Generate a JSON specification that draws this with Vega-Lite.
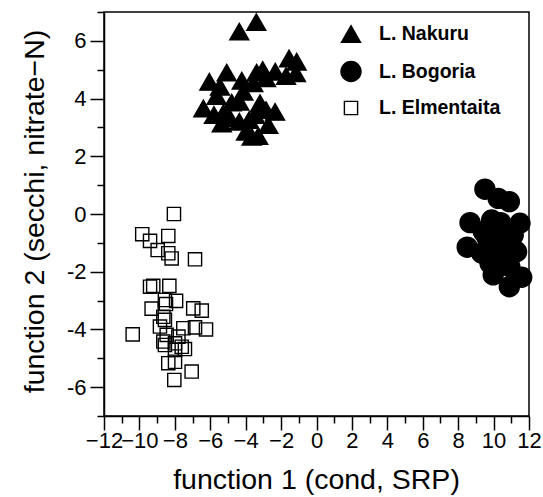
{
  "$schema": "https://vega.github.io/schema/vega-lite/v6.json",
  "autosize": {"type": "none"},
  "padding": {"left": 104, "top": 12, "right": 14, "bottom": 81},
  "width": 425,
  "height": 404,
  "background": "white",
  "config": {
    "view": {"stroke": "black", "strokeWidth": 1.5},
    "font": "Liberation Sans",
    "axis": {
      "domainColor": "black",
      "domainWidth": 1.5,
      "tickColor": "black",
      "tickWidth": 1.5,
      "grid": false,
      "labelColor": "black",
      "labelFont": "Liberation Sans",
      "labelFontSize": 22,
      "labelOverlap": false,
      "labelFlush": false,
      "labelBound": false,
      "titleColor": "black",
      "titleFont": "Liberation Sans",
      "titleFontSize": 28.5,
      "titleFontWeight": "normal"
    }
  },
  "data": {
    "values": [
      {"lake": "L. Nakuru", "f1": -3.4, "f2": 6.65},
      {"lake": "L. Nakuru", "f1": -4.36, "f2": 6.32},
      {"lake": "L. Nakuru", "f1": -1.55, "f2": 5.39},
      {"lake": "L. Nakuru", "f1": -1.12, "f2": 5.28},
      {"lake": "L. Nakuru", "f1": -1.16, "f2": 4.88},
      {"lake": "L. Nakuru", "f1": -1.72, "f2": 4.78},
      {"lake": "L. Nakuru", "f1": -2.33, "f2": 4.93},
      {"lake": "L. Nakuru", "f1": -3.04, "f2": 4.99},
      {"lake": "L. Nakuru", "f1": -3.38, "f2": 4.9},
      {"lake": "L. Nakuru", "f1": -2.85, "f2": 4.7},
      {"lake": "L. Nakuru", "f1": -5.07, "f2": 4.9},
      {"lake": "L. Nakuru", "f1": -6.05, "f2": 4.58},
      {"lake": "L. Nakuru", "f1": -5.45, "f2": 4.41},
      {"lake": "L. Nakuru", "f1": -4.22, "f2": 4.62},
      {"lake": "L. Nakuru", "f1": -3.57, "f2": 4.53},
      {"lake": "L. Nakuru", "f1": -5.64, "f2": 4.09},
      {"lake": "L. Nakuru", "f1": -4.13, "f2": 4.24},
      {"lake": "L. Nakuru", "f1": -4.79, "f2": 3.86},
      {"lake": "L. Nakuru", "f1": -4.36, "f2": 3.89},
      {"lake": "L. Nakuru", "f1": -6.39, "f2": 3.66},
      {"lake": "L. Nakuru", "f1": -5.79, "f2": 3.43},
      {"lake": "L. Nakuru", "f1": -5.26, "f2": 3.49},
      {"lake": "L. Nakuru", "f1": -3.19, "f2": 3.84},
      {"lake": "L. Nakuru", "f1": -2.85, "f2": 3.6},
      {"lake": "L. Nakuru", "f1": -2.34, "f2": 3.54},
      {"lake": "L. Nakuru", "f1": -3.47, "f2": 3.43},
      {"lake": "L. Nakuru", "f1": -4.89, "f2": 3.32},
      {"lake": "L. Nakuru", "f1": -5.35, "f2": 3.14},
      {"lake": "L. Nakuru", "f1": -4.36, "f2": 3.2},
      {"lake": "L. Nakuru", "f1": -3.8, "f2": 3.26},
      {"lake": "L. Nakuru", "f1": -2.72, "f2": 3.08},
      {"lake": "L. Nakuru", "f1": -3.98, "f2": 2.85},
      {"lake": "L. Nakuru", "f1": -3.66, "f2": 2.68},
      {"lake": "L. Nakuru", "f1": -3.29, "f2": 2.7},
      {"lake": "L. Bogoria", "f1": 9.51, "f2": 0.86},
      {"lake": "L. Bogoria", "f1": 10.26, "f2": 0.54},
      {"lake": "L. Bogoria", "f1": 10.89, "f2": 0.43},
      {"lake": "L. Bogoria", "f1": 8.67, "f2": -0.3},
      {"lake": "L. Bogoria", "f1": 9.89, "f2": -0.21},
      {"lake": "L. Bogoria", "f1": 11.49, "f2": -0.32},
      {"lake": "L. Bogoria", "f1": 8.51, "f2": -1.15},
      {"lake": "L. Bogoria", "f1": 9.61, "f2": -0.79},
      {"lake": "L. Bogoria", "f1": 10.74, "f2": -0.9},
      {"lake": "L. Bogoria", "f1": 11.3, "f2": -1.31},
      {"lake": "L. Bogoria", "f1": 10.08, "f2": -1.48},
      {"lake": "L. Bogoria", "f1": 9.98, "f2": -2.11},
      {"lake": "L. Bogoria", "f1": 10.92, "f2": -1.83},
      {"lake": "L. Bogoria", "f1": 11.59, "f2": -2.19},
      {"lake": "L. Bogoria", "f1": 10.89, "f2": -2.52},
      {"lake": "L. Bogoria", "f1": 9.42, "f2": -0.61},
      {"lake": "L. Bogoria", "f1": 10.36, "f2": -1.13},
      {"lake": "L. Bogoria", "f1": 9.33, "f2": -1.36},
      {"lake": "L. Bogoria", "f1": 10.55, "f2": -0.55},
      {"lake": "L. Bogoria", "f1": 9.8, "f2": -1.71},
      {"lake": "L. Bogoria", "f1": 11.11, "f2": -0.73},
      {"lake": "L. Bogoria", "f1": 10.0, "f2": -1.0},
      {"lake": "L. Bogoria", "f1": 10.4, "f2": -0.3},
      {"lake": "L. Bogoria", "f1": 9.7, "f2": -1.2},
      {"lake": "L. Bogoria", "f1": 10.6, "f2": -1.6},
      {"lake": "L. Elmentaita", "f1": -8.05, "f2": 0.0},
      {"lake": "L. Elmentaita", "f1": -9.84, "f2": -0.7},
      {"lake": "L. Elmentaita", "f1": -9.4, "f2": -0.93},
      {"lake": "L. Elmentaita", "f1": -8.37, "f2": -0.76},
      {"lake": "L. Elmentaita", "f1": -8.97, "f2": -1.25},
      {"lake": "L. Elmentaita", "f1": -8.37, "f2": -1.36},
      {"lake": "L. Elmentaita", "f1": -8.18, "f2": -1.54},
      {"lake": "L. Elmentaita", "f1": -6.86, "f2": -1.57},
      {"lake": "L. Elmentaita", "f1": -9.4, "f2": -2.52},
      {"lake": "L. Elmentaita", "f1": -9.22, "f2": -2.49},
      {"lake": "L. Elmentaita", "f1": -8.31, "f2": -2.49},
      {"lake": "L. Elmentaita", "f1": -8.56, "f2": -2.98},
      {"lake": "L. Elmentaita", "f1": -7.93, "f2": -3.01},
      {"lake": "L. Elmentaita", "f1": -9.31, "f2": -3.28},
      {"lake": "L. Elmentaita", "f1": -8.5, "f2": -3.12},
      {"lake": "L. Elmentaita", "f1": -6.96, "f2": -3.27},
      {"lake": "L. Elmentaita", "f1": -6.48, "f2": -3.35},
      {"lake": "L. Elmentaita", "f1": -8.65, "f2": -3.56},
      {"lake": "L. Elmentaita", "f1": -8.56, "f2": -3.67},
      {"lake": "L. Elmentaita", "f1": -10.38, "f2": -4.17},
      {"lake": "L. Elmentaita", "f1": -8.84, "f2": -3.9},
      {"lake": "L. Elmentaita", "f1": -7.52, "f2": -3.96},
      {"lake": "L. Elmentaita", "f1": -6.86, "f2": -3.93},
      {"lake": "L. Elmentaita", "f1": -6.24, "f2": -4.0},
      {"lake": "L. Elmentaita", "f1": -8.46, "f2": -4.19},
      {"lake": "L. Elmentaita", "f1": -8.56, "f2": -4.54},
      {"lake": "L. Elmentaita", "f1": -7.99, "f2": -4.48},
      {"lake": "L. Elmentaita", "f1": -7.61, "f2": -4.6},
      {"lake": "L. Elmentaita", "f1": -7.43, "f2": -4.68},
      {"lake": "L. Elmentaita", "f1": -7.99, "f2": -4.71},
      {"lake": "L. Elmentaita", "f1": -8.37, "f2": -5.17},
      {"lake": "L. Elmentaita", "f1": -7.99, "f2": -5.12},
      {"lake": "L. Elmentaita", "f1": -7.05, "f2": -5.46},
      {"lake": "L. Elmentaita", "f1": -8.03, "f2": -5.75},
      {"lake": "L. Elmentaita", "f1": -7.8, "f2": -4.25},
      {"lake": "L. Elmentaita", "f1": -8.65, "f2": -4.42}
    ]
  },
  "mark": {"type": "point", "filled": true, "stroke": "black", "strokeWidth": 1.4, "opacity": 1, "size": 400},
  "encoding": {
    "x": {
      "field": "f1",
      "type": "quantitative",
      "scale": {"domain": [-12, 12], "nice": false, "zero": false},
      "axis": {
        "title": "function 1 (cond, SRP)",
        "values": [-12, -11, -10, -9, -8, -7, -6, -5, -4, -3, -2, -1, 0, 1, 2, 3, 4, 5, 6, 7, 8, 9, 10, 11, 12],
        "labelExpr": "datum.value % 2 == 0 ? datum.label : ''",
        "tickSize": {"condition": {"test": "datum.value % 2 == 0", "value": 14}, "value": 7},
        "labelPadding": 0,
        "titleX": 212,
        "titleY": 72,
        "titleAnchor": "middle",
        "titleAlign": "center",
        "titleBaseline": "alphabetic"
      }
    },
    "y": {
      "field": "f2",
      "type": "quantitative",
      "scale": {"domain": [-7, 7], "nice": false, "zero": false},
      "axis": {
        "title": "function 2 (secchi, nitrate−N)",
        "values": [-7, -6, -5, -4, -3, -2, -1, 0, 1, 2, 3, 4, 5, 6, 7],
        "labelExpr": "datum.value % 2 == 0 ? (datum.value < 0 ? '-' + abs(datum.value) : datum.label) : ''",
        "tickSize": {"condition": {"test": "datum.value % 2 == 0", "value": 14}, "value": 7},
        "labelPadding": 4,
        "titleAngle": -90,
        "titleX": -61,
        "titleY": 199,
        "titleAlign": "center",
        "titleBaseline": "alphabetic"
      }
    },
    "shape": {
      "field": "lake",
      "type": "nominal",
      "scale": {
        "domain": ["L. Nakuru", "L. Bogoria", "L. Elmentaita"],
        "range": ["M0,-0.83L0.95,0.83L-0.95,0.83Z", "circle", "M-0.66,-0.66H0.66V0.66H-0.66Z"]
      },
      "legend": {
        "title": null,
        "orient": "none",
        "legendX": 236,
        "legendY": 11,
        "padding": 0,
        "symbolSize": 400,
        "symbolStrokeWidth": 1.4,
        "labelFont": "Liberation Sans",
        "labelFontSize": 19.5,
        "labelFontWeight": "bold",
        "labelColor": "black",
        "labelOffset": 17,
        "rowPadding": 12.5
      }
    },
    "fill": {
      "field": "lake",
      "type": "nominal",
      "scale": {"domain": ["L. Nakuru", "L. Bogoria", "L. Elmentaita"], "range": ["black", "black", "transparent"]},
      "legend": {
        "title": null,
        "orient": "none",
        "legendX": 236,
        "legendY": 11,
        "padding": 0,
        "symbolSize": 400,
        "symbolStrokeWidth": 1.4,
        "labelFont": "Liberation Sans",
        "labelFontSize": 19.5,
        "labelFontWeight": "bold",
        "labelColor": "black",
        "labelOffset": 17,
        "rowPadding": 12.5
      }
    }
  }
}
